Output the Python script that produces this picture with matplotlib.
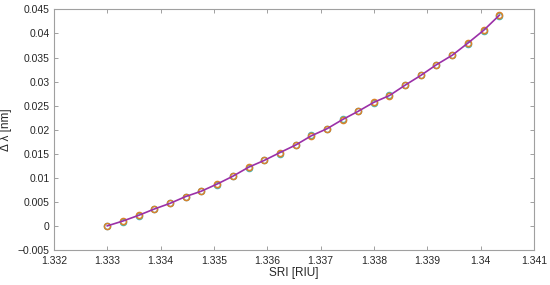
import matplotlib
matplotlib.use('Agg')
from matplotlib import pyplot as plt
from matplotlib.ticker import FuncFormatter
import numpy as np

plt.rcParams['font.family'] = ['Liberation Sans', 'DejaVu Sans']

# refractive index of the surrounding medium
sri = [1.3330, 1.33329, 1.33359, 1.33388, 1.33418, 1.33447, 1.33476, 1.33506,
       1.33535, 1.33565, 1.33594, 1.33623, 1.33653, 1.33682, 1.33712, 1.33741,
       1.33770, 1.33800, 1.33829, 1.33859, 1.33888, 1.33917, 1.33947, 1.33976,
       1.34006, 1.34035]

# wavelength shift, two measurement runs
shift_a = [0.0, 0.0010, 0.0022, 0.0035, 0.0047, 0.0061, 0.0072, 0.0087,
           0.0103, 0.0122, 0.0136, 0.0152, 0.0168, 0.0187, 0.0202, 0.0221,
           0.0238, 0.0257, 0.0271, 0.0293, 0.0313, 0.0335, 0.0355, 0.0380,
           0.0407, 0.0438]
shift_b = [0.0, 0.0009, 0.0021, 0.0036, 0.0048, 0.0061, 0.0073, 0.0086,
           0.0104, 0.0120, 0.0137, 0.0150, 0.0169, 0.0188, 0.0201, 0.0222,
           0.0239, 0.0256, 0.0272, 0.0292, 0.0314, 0.0334, 0.0356, 0.0378,
           0.0406, 0.0436]

fig = plt.figure(figsize=(5.5, 2.85), dpi=100)
ax = fig.add_axes([0.098, 0.123, 0.873, 0.844])

ax.plot(sri, shift_b, 'o', ms=4.4, mfc='none', mec='#4DBEEE', mew=1.1)
ax.plot(sri, shift_b, 'o', ms=4.4, mfc='none', mec='#77AC30', mew=0.6, alpha=0.6)
ax.plot(sri, shift_a, 'o', ms=4.4, mfc='none', mec='#D9822B', mew=1.1)
ax.plot(sri, shift_a, '-', c='#9B30A8', lw=1.2)

ax.set_xlim(1.332, 1.341)
ax.set_ylim(-0.005, 0.045)
ax.set_xticks(np.arange(1.332, 1.3411, 0.001))
ax.set_yticks(np.arange(-0.005, 0.0451, 0.005))
fmt = FuncFormatter(lambda v, p: ('%g' % round(v, 6)).replace('-', '\u2212'))
ax.xaxis.set_major_formatter(fmt)
ax.yaxis.set_major_formatter(fmt)

ax.tick_params(direction='in', top=True, right=True, length=3, width=0.6,
               color='#909090', labelsize=7.5, labelcolor='#262626', pad=3)
ax.tick_params(axis='x', pad=4)
for s in ax.spines.values():
    s.set_color('#A0A0A0')
    s.set_linewidth(0.8)

ax.set_xlabel('SRI [RIU]', fontsize=8.5, color='#262626', labelpad=1)
ax.set_ylabel('\u0394 \u03bb [nm]', fontsize=8.5, color='#262626', labelpad=4)

fig.savefig('out.png', dpi=100)
